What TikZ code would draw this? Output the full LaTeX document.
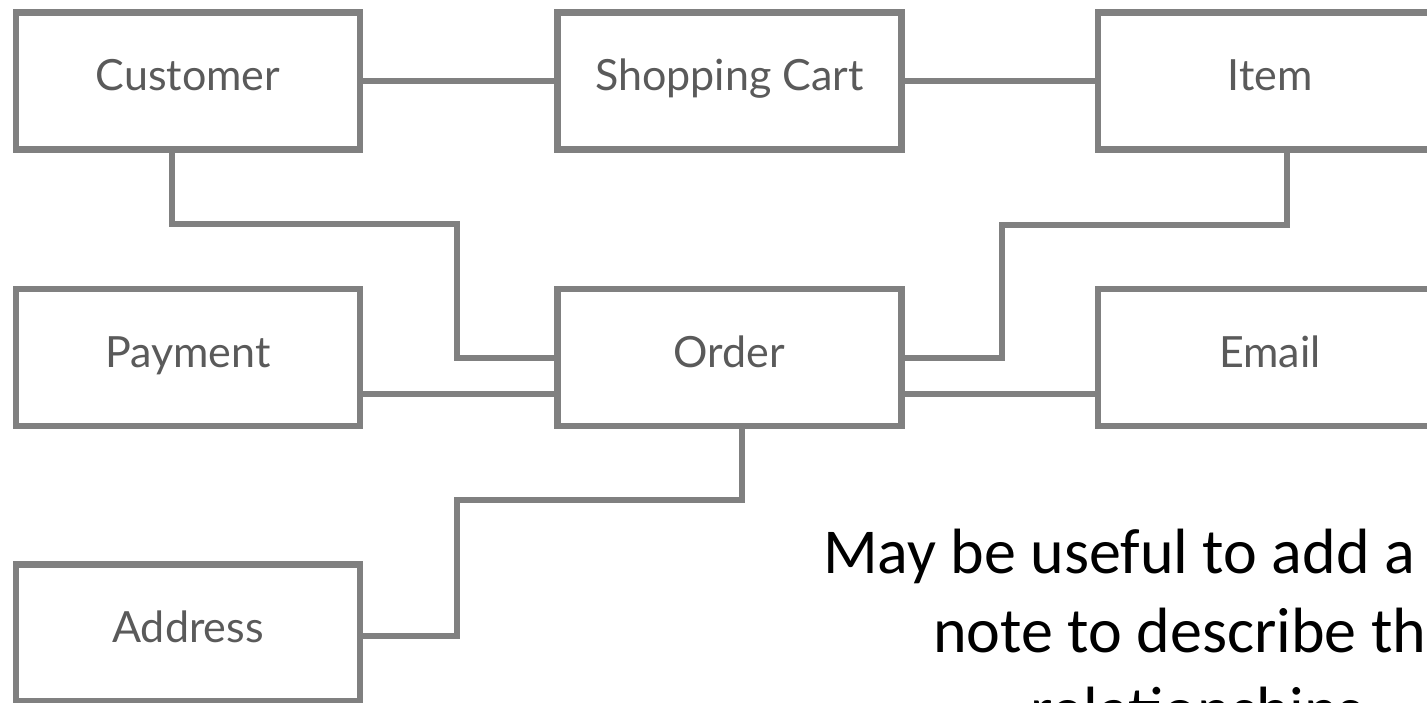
\documentclass[tikz,border=0pt]{standalone}
\usepackage{fontspec}
\setmainfont{Lato}
\newfontfamily\notefont{Carlito}
\definecolor{boxgray}{HTML}{808080}
\definecolor{labelgray}{HTML}{5A5A5A}
\begin{document}
\begin{tikzpicture}[x=1pt,y=-1pt,
  entity/.style={draw=boxgray, line width=6.5pt, fill=white, minimum width=344pt, minimum height=137pt,
    inner sep=0pt, text=labelgray, font=\fontsize{43}{52}\selectfont, text height=31pt, text depth=12pt},
  link/.style={draw=boxgray, line width=6pt, line join=miter},
  notetext/.style={anchor=base west, inner sep=0pt, font=\notefont\fontsize{64}{79}\selectfont, text=black}]
\useasboundingbox (0,0) rectangle (1427,703);
\clip (0,0) rectangle (1427,703);
\fill[white] (0,0) rectangle (1427,703);

\coordinate (c1) at (172,224);
\coordinate (c2) at (457,224);
\coordinate (c3) at (457,358);
\coordinate (i1) at (1287,225);
\coordinate (i2) at (1002,225);
\coordinate (i3) at (1002,358);
\coordinate (a1) at (742,500);
\coordinate (a2) at (457,500);
\coordinate (a3) at (457,636);

\node[entity] (customer) at (188,81) {Customer};
\node[entity] (cart) at (729.5,81) {Shopping Cart};
\node[entity] (item) at (1270,81) {Item};
\node[entity] (payment) at (188,357.5) {Payment};
\node[entity] (order) at (729.5,357.5) {Order};
\node[entity] (email) at (1270,357.5) {Email};
\node[entity] (address) at (188,633) {Address};

\draw[link] (customer.east) -- (cart.west);
\draw[link] (cart.east) -- (item.west);
\draw[link] (customer.south -| c1) -- (c1) -- (c2) -- (c3) -- (order.west |- c3);
\draw[link] (payment.east |- 0,394) -- (order.west |- 0,394);
\draw[link] (order.east |- i3) -- (i3) -- (i2) -- (i1) -- (item.south -| i1);
\draw[link] (order.east |- 0,394) -- (email.west |- 0,394);
\draw[link] (order.south -| a1) -- (a1) -- (a2) -- (a3) -- (address.east |- a3);

\node[notetext] (note1) at (823,573) {May be useful to add a};
\node[notetext] (note2) at (933,652) {note to describe the};
\node[notetext] (note3) at (1030,731) {relationships};
\end{tikzpicture}
\end{document}
